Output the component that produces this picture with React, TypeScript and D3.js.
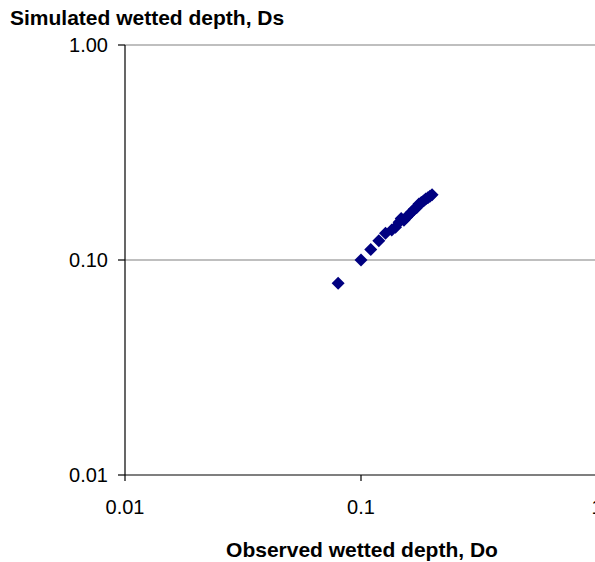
import React, { useRef, useEffect } from 'react';
import * as d3 from 'd3';

// observed vs simulated wetted depth
const observed = [0.080, 0.100, 0.110, 0.119, 0.127, 0.135, 0.140, 0.145, 0.148, 0.152, 0.156, 0.160, 0.164, 0.168, 0.172, 0.176, 0.180, 0.184, 0.188, 0.192, 0.196, 0.200];
const simulated = [0.078, 0.100, 0.112, 0.123, 0.133, 0.138, 0.142, 0.150, 0.156, 0.153, 0.158, 0.163, 0.167, 0.172, 0.175, 0.182, 0.185, 0.188, 0.192, 0.195, 0.198, 0.201];

const xTicks = [0.01, 0.1, 1];
const xTickLabels = ['0.01', '0.1', '1'];
const yTicks = [0.01, 0.1, 1];
const yTickLabels = ['0.01', '0.10', '1.00'];

const W = 595;
const H = 562;
const FONT = 'Arial, "Liberation Sans", sans-serif';

const App: React.FC = () => {
  const svgRef = useRef<SVGSVGElement>(null);

  useEffect(() => {
    if (!svgRef.current) return;
    const svg = d3.select(svgRef.current);
    svg.selectAll('*').remove();

    const left = 125;
    const right = 597;
    const top = 45;
    const bottom = 475;

    const x = d3.scaleLog().domain([0.01, 1]).range([left, right]);
    const y = d3.scaleLog().domain([0.01, 1]).range([bottom, top]);

    // gridlines
    svg.selectAll('.grid')
      .data(yTicks.slice(1))
      .enter()
      .append('line')
      .attr('x1', left)
      .attr('x2', right)
      .attr('y1', d => y(d))
      .attr('y2', d => y(d))
      .attr('stroke', '#808080')
      .attr('stroke-width', 1.2);

    // axis lines
    svg.append('line')
      .attr('x1', left).attr('x2', left)
      .attr('y1', top).attr('y2', bottom)
      .attr('stroke', '#000').attr('stroke-width', 1.2);
    svg.append('line')
      .attr('x1', left).attr('x2', right)
      .attr('y1', bottom).attr('y2', bottom)
      .attr('stroke', '#000').attr('stroke-width', 1.2);

    // y ticks
    yTicks.forEach((t, i) => {
      svg.append('line')
        .attr('x1', left - 7).attr('x2', left)
        .attr('y1', y(t)).attr('y2', y(t))
        .attr('stroke', '#000').attr('stroke-width', 1.2);
      svg.append('text')
        .attr('x', left - 17)
        .attr('y', y(t))
        .attr('dy', '0.33em')
        .attr('text-anchor', 'end')
        .style('font-family', FONT)
        .style('font-size', '20px')
        .style('fill', '#000')
        .text(yTickLabels[i]);
    });

    // x ticks
    xTicks.forEach((t, i) => {
      svg.append('line')
        .attr('x1', x(t)).attr('x2', x(t))
        .attr('y1', bottom).attr('y2', bottom + 6)
        .attr('stroke', '#000').attr('stroke-width', 1.2);
      svg.append('text')
        .attr('x', x(t))
        .attr('y', 514)
        .attr('text-anchor', 'middle')
        .style('font-family', FONT)
        .style('font-size', '20px')
        .style('fill', '#000')
        .text(xTickLabels[i]);
    });

    // points as diamonds
    const r = 6.5;
    const diamond = `M0,${-r}L${r},0L0,${r}L${-r},0Z`;
    svg.selectAll('.pt')
      .data(observed.map((o, i) => [o, simulated[i]]))
      .enter()
      .append('path')
      .attr('class', 'pt')
      .attr('d', diamond)
      .attr('transform', d => `translate(${x(d[0])},${y(d[1])})`)
      .attr('fill', '#000080');

    // titles
    svg.append('text')
      .attr('x', 10)
      .attr('y', 25)
      .style('font-family', FONT)
      .style('font-size', '21px')
      .style('font-weight', 'bold')
      .style('fill', '#000')
      .text('Simulated wetted depth, Ds');

    svg.append('text')
      .attr('x', 362)
      .attr('y', 557)
      .attr('text-anchor', 'middle')
      .style('font-family', FONT)
      .style('font-size', '21px')
      .style('font-weight', 'bold')
      .style('fill', '#000')
      .text('Observed wetted depth, Do');
  }, []);

  return (
    <svg
      ref={svgRef}
      width={W}
      height={H}
      style={{ position: 'absolute', left: 0, top: 0, background: '#fff' }}
    />
  );
};

export default App;
